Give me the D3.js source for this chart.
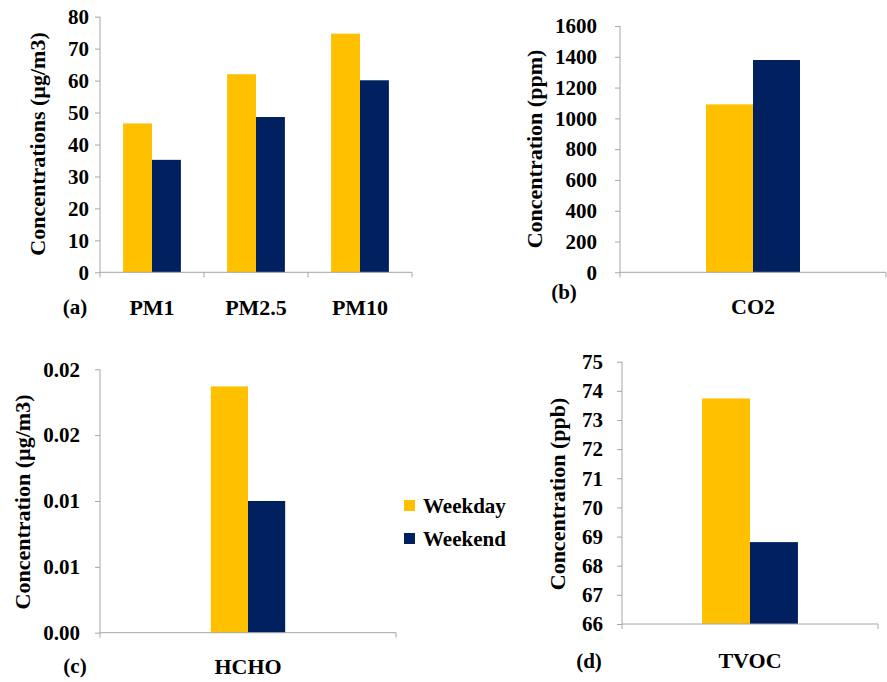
<!DOCTYPE html>
<html>
<head>
<meta charset="utf-8">
<script src="https://cdn.jsdelivr.net/npm/d3@7"></script>
<style>
  html, body { margin: 0; padding: 0; background: #fff; }
  svg { display: block; font-family: "Liberation Serif", "Times New Roman", serif; font-weight: bold; }
  svg text { font-family: "Liberation Serif", "Times New Roman", serif; font-weight: bold; }
</style>
</head>
<body>
<svg id="chart" width="887" height="682"></svg>
<script>
// Series colours
const WEEKDAY_COLOR = "#FFC000";
const WEEKEND_COLOR = "#002060";
const seriesNames = ["Weekday", "Weekend"];

// (a) particulate matter, µg/m3
const pmCategories = ["PM1", "PM2.5", "PM10"];
const pmWeekday = [46.6, 62.0, 74.7];
const pmWeekend = [35.2, 48.6, 60.1];
const pmTicks = [0, 10, 20, 30, 40, 50, 60, 70, 80];
const pmTickLabels = ["0", "10", "20", "30", "40", "50", "60", "70", "80"];

// (b) carbon dioxide, ppm
const co2Categories = ["CO2"];
const co2Weekday = [1091];
const co2Weekend = [1379];
const co2Ticks = [0, 200, 400, 600, 800, 1000, 1200, 1400, 1600];
const co2TickLabels = ["0", "200", "400", "600", "800", "1000", "1200", "1400", "1600"];

// (c) formaldehyde, µg/m3
const hchoCategories = ["HCHO"];
const hchoWeekday = [0.0187];
const hchoWeekend = [0.0100];
const hchoTicks = [0, 0.005, 0.01, 0.015, 0.02];
const hchoTickLabels = ["0.00", "0.01", "0.01", "0.02", "0.02"];

// (d) total volatile organic compounds, ppb
const tvocCategories = ["TVOC"];
const tvocWeekday = [73.74];
const tvocWeekend = [68.81];
const tvocTicks = [66, 67, 68, 69, 70, 71, 72, 73, 74, 75];
const tvocTickLabels = ["66", "67", "68", "69", "70", "71", "72", "73", "74", "75"];

const panels = [
  { cats: pmCategories, wd: pmWeekday, we: pmWeekend, ticks: pmTicks, labels: pmTickLabels,
    xr: [100, 412], yr: [272.3, 16.7], pad: 0.8, tickPad: 6,
    title: "Concentrations (µg/m3)", tx: 37, ty: 144,
    letter: "(a)", lx: 75, ly: 314, catY: 315 },
  { cats: co2Categories, wd: co2Weekday, we: co2Weekend, ticks: co2Ticks, labels: co2TickLabels,
    xr: [620, 886], yr: [272.3, 26], pad: 1.83, tickPad: 18,
    title: "Concentration (ppm)", tx: 534, ty: 149,
    letter: "(b)", lx: 564, ly: 299, catY: 314 },
  { cats: hchoCategories, wd: hchoWeekday, we: hchoWeekend, ticks: hchoTicks, labels: hchoTickLabels,
    xr: [100, 396], yr: [632.7, 369.3], pad: 2.98, tickPad: 15,
    title: "Concentration (µg/m3)", tx: 22, ty: 502,
    letter: "(c)", lx: 75, ly: 673, catY: 674 },
  { cats: tvocCategories, wd: tvocWeekday, we: tvocWeekend, ticks: tvocTicks, labels: tvocTickLabels,
    xr: [622, 878], yr: [624, 361.7], pad: 1.67, tickPad: 14,
    title: "Concentration (ppb)", tx: 557, ty: 494,
    letter: "(d)", lx: 589, ly: 668, catY: 668 }
];

const svg = d3.select("#chart");
const AXIS_COLOR = "#a6a6a6";

panels.forEach(p => {
  const g = svg.append("g");
  const y = d3.scaleLinear()
    .domain([p.ticks[0], p.ticks[p.ticks.length - 1]])
    .range(p.yr);
  const x0 = d3.scaleBand().domain(p.cats).range(p.xr).paddingInner(0).paddingOuter(0);
  const x1 = d3.scaleBand().domain(seriesNames).range([0, x0.bandwidth()])
    .paddingInner(0).paddingOuter(p.pad);
  const color = d3.scaleOrdinal().domain(seriesNames).range([WEEKDAY_COLOR, WEEKEND_COLOR]);

  const rows = p.cats.map((c, i) => ({ cat: c, values: [
    { key: "Weekday", value: p.wd[i] },
    { key: "Weekend", value: p.we[i] }
  ]}));

  // bars
  g.selectAll("g.cat").data(rows).join("g")
    .attr("transform", d => `translate(${x0(d.cat)},0)`)
    .selectAll("rect").data(d => d.values).join("rect")
    .attr("x", d => x1(d.key))
    .attr("width", x1.bandwidth())
    .attr("y", d => y(d.value))
    .attr("height", d => y.range()[0] - y(d.value))
    .attr("fill", d => color(d.key));

  // y axis
  const yAxis = d3.axisLeft(y)
    .tickValues(p.ticks)
    .tickFormat((d, i) => p.labels[i])
    .tickSizeInner(5).tickSizeOuter(0)
    .tickPadding(p.tickPad);
  const ya = g.append("g").attr("transform", `translate(${p.xr[0]},0)`).call(yAxis)
    .attr("font-family", null).attr("font-size", null);
  ya.select(".domain").remove();
  ya.selectAll(".tick line").attr("stroke", AXIS_COLOR);
  ya.selectAll(".tick text").attr("fill", "#000").style("font-size", "21px");
  ya.append("line")
    .attr("x1", 0).attr("x2", 0)
    .attr("y1", y.range()[1]).attr("y2", y.range()[0] + 5)
    .attr("stroke", AXIS_COLOR);

  // x axis with ticks on category boundaries
  const yBase = y.range()[0];
  g.append("line")
    .attr("x1", p.xr[0]).attr("x2", p.xr[1])
    .attr("y1", yBase).attr("y2", yBase)
    .attr("stroke", AXIS_COLOR);
  const bounds = p.cats.map(c => x0(c)).concat([p.xr[1]]);
  g.selectAll("line.bnd").data(bounds.slice(1)).join("line")
    .attr("x1", d => d).attr("x2", d => d)
    .attr("y1", yBase).attr("y2", yBase + 5)
    .attr("stroke", AXIS_COLOR);

  // category labels
  g.selectAll("text.cat").data(p.cats).join("text")
    .attr("x", d => x0(d) + x0.bandwidth() / 2)
    .attr("y", p.catY)
    .attr("text-anchor", "middle")
    .style("font-size", "22px")
    .text(d => d);

  // axis title
  g.append("text")
    .attr("transform", `translate(${p.tx},${p.ty}) rotate(-90)`)
    .attr("text-anchor", "middle")
    .attr("dy", "0.35em")
    .style("font-size", "22px")
    .text(p.title);

  // panel letter
  g.append("text")
    .attr("x", p.lx).attr("y", p.ly)
    .attr("text-anchor", "middle")
    .style("font-size", "21px")
    .text(p.letter);
});

// legend
const legend = svg.append("g");
const legendColors = [WEEKDAY_COLOR, WEEKEND_COLOR];
const legendRows = [500, 533];
seriesNames.forEach((name, i) => {
  legend.append("rect")
    .attr("x", 404).attr("y", legendRows[i])
    .attr("width", 11).attr("height", 11)
    .attr("fill", legendColors[i]);
  legend.append("text")
    .attr("x", 423).attr("y", legendRows[i] + 13)
    .style("font-size", "21px")
    .text(name);
});
</script>
</body>
</html>
